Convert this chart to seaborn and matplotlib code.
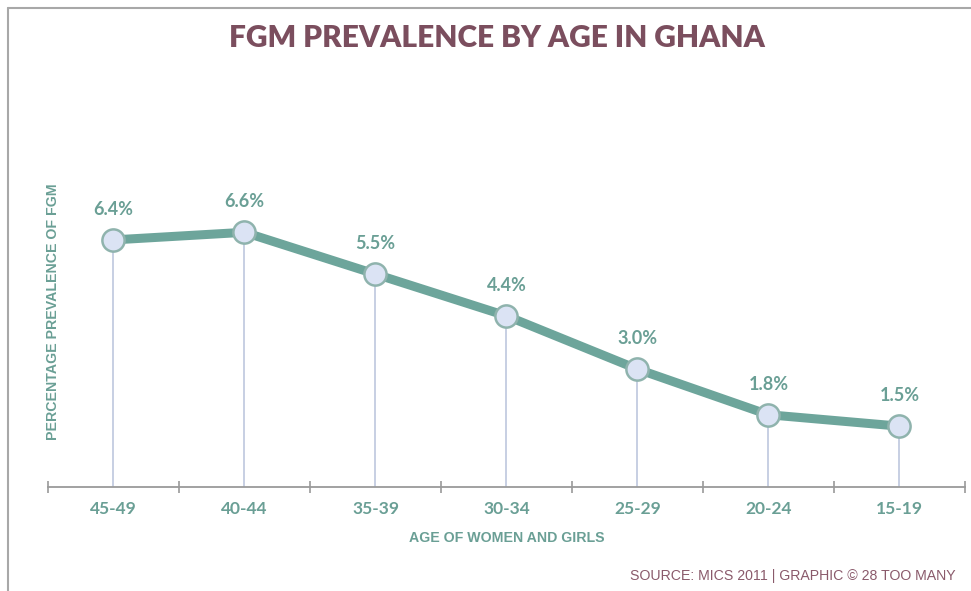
import matplotlib.pyplot as plt
import pandas as pd
import seaborn as sns
from matplotlib.lines import Line2D

# Data
ages = ["45-49", "40-44", "35-39", "30-34", "25-29", "20-24", "15-19"]
prevalence = [6.4, 6.6, 5.5, 4.4, 3.0, 1.8, 1.5]
value_labels = ["6.4%", "6.6%", "5.5%", "4.4%", "3.0%", "1.8%", "1.5%"]

teal = "#6da59b"
teal_text = "#6a9f95"
maroon = "#7b4e5e"

df = pd.DataFrame({"age": ages, "value": prevalence})
df["pos"] = range(len(df))

sns.set_style("white")
plt.rcParams["font.family"] = ["Lato", "DejaVu Sans"]

fig = plt.figure(figsize=(9.71, 5.91), dpi=100)
ax = fig.add_axes([0.0494, 0.176, 0.9444, 0.521])

# drop lines from each point to the axis
ax.vlines(df["pos"], -0.1, df["value"], color="#c3cce0", lw=1.3, zorder=1)

sns.lineplot(data=df, x="pos", y="value", ax=ax, color=teal, lw=6.5,
             marker="o", markersize=16, markerfacecolor="#dbe3f4",
             markeredgecolor="#8fb3ad", markeredgewidth=1.8, zorder=3)

for x, y, lab in zip(df["pos"], df["value"], value_labels):
    ax.text(x, y + 0.8, lab, ha="center", va="center", fontsize=13,
            fontweight="bold", color=teal_text)

ax.set_xlim(-0.5, 6.5)
ax.set_ylim(-0.1, 8.0)

for s in ["top", "right", "left"]:
    ax.spines[s].set_visible(False)
ax.spines["bottom"].set_color("#9a9a9a")
ax.spines["bottom"].set_linewidth(1.3)
ax.spines["bottom"].set_position(("data", -0.1))

ax.set_yticks([])
ax.set_xticks([i - 0.5 for i in range(len(ages) + 1)])
ax.set_xticklabels([])
ax.set_xticks(df["pos"], minor=True)
ax.set_xticklabels(ages, minor=True, fontsize=12.5, fontweight="bold", color=teal_text)
ax.tick_params(axis="x", which="major", direction="inout", length=9, width=1.2,
               color="#9a9a9a", bottom=True)
ax.tick_params(axis="x", which="minor", length=0, pad=10)

ax.set_xlabel("AGE OF WOMEN AND GIRLS", fontsize=10.2, fontweight="bold",
              color=teal_text, family=["Liberation Sans", "DejaVu Sans"], labelpad=10)
ax.set_ylabel("PERCENTAGE PREVALENCE OF FGM", fontsize=10.2, fontweight="bold",
              color=teal_text, family=["Liberation Sans", "DejaVu Sans"])
ax.yaxis.set_label_coords(0.013, 0.57)

fig.text(0.512, 0.935, "FGM PREVALENCE BY AGE IN GHANA", ha="center", va="center",
         fontsize=21.5, fontweight="heavy", color=maroon)
fig.text(0.984, 0.025, "SOURCE: MICS 2011 | GRAPHIC \u00a9 28 TOO MANY", ha="right",
         va="center", fontsize=10.2, color="#8a5a6b",
         family=["Liberation Sans", "DejaVu Sans"])

# screenshot frame on top and left
fig.add_artist(Line2D([0.008, 1.0], [0.986, 0.986], color="#a8a8a8", lw=1.5))
fig.add_artist(Line2D([0.008, 0.008], [0.0, 0.986], color="#a8a8a8", lw=1.5))

fig.savefig("out.png", dpi=100)
